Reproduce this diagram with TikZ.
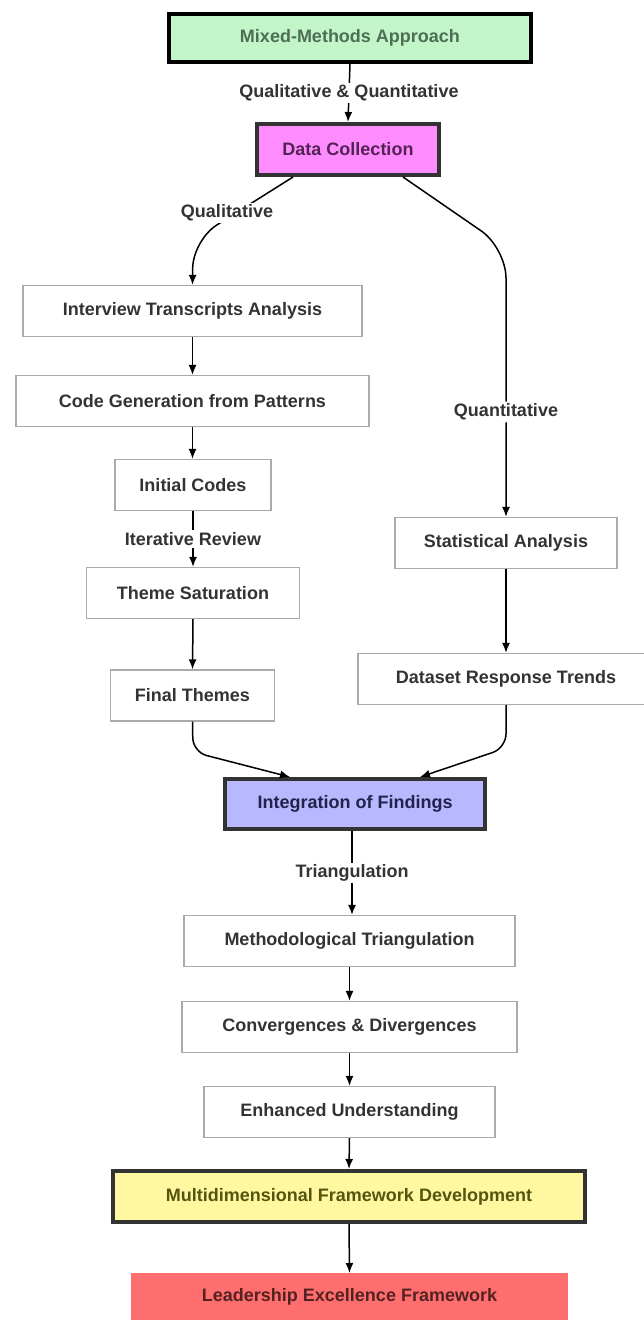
\documentclass[tikz,border=0pt]{standalone}
\usepackage{fontspec}
\setmainfont{Liberation Sans}
\usetikzlibrary{arrows.meta}
\definecolor{txt}{HTML}{333333}
\definecolor{bord}{HTML}{AAAAAA}
\definecolor{greenfill}{HTML}{C2F5C8}
\definecolor{greentxt}{HTML}{4E6E55}
\definecolor{pinkfill}{HTML}{FF8CFF}
\definecolor{pinktxt}{HTML}{552255}
\definecolor{bluefill}{HTML}{B8B8FF}
\definecolor{bluetxt}{HTML}{22224A}
\definecolor{yellowfill}{HTML}{FFF8A0}
\definecolor{yellowtxt}{HTML}{555510}
\definecolor{redfill}{HTML}{FF6E6E}
\definecolor{redtxt}{HTML}{552222}
\definecolor{darkbord}{HTML}{333333}
\begin{document}
\begin{tikzpicture}[x=1pt,y=-1pt,
  font=\fontsize{18}{21}\selectfont\bfseries,
  plain/.style={draw=bord, line width=1.2pt, fill=white, text=txt, minimum height=51pt, inner sep=0pt},
  major/.style={draw=darkbord, line width=4pt, inner sep=0pt},
  arr/.style={draw=black, line width=1.5pt, -{Latex[length=10pt,width=8pt]}},
  lbl/.style={fill=white, text=txt, inner sep=2pt}
]
\useasboundingbox (0,0) rectangle (643,1320);
% major nodes
\node[major, draw=black, fill=greenfill, text=greentxt, minimum width=362pt, minimum height=48pt] (mm) at (350,38) {Mixed-Methods Approach};
\node[major, fill=pinkfill, text=pinktxt, minimum width=182pt, minimum height=51pt] (dc) at (348,149.5) {Data Collection};
% qualitative branch
\node[plain, minimum width=339pt] (iv) at (192.5,311) {Interview Transcripts Analysis};
\node[plain, minimum width=353pt] (cg) at (192.5,401) {Code Generation from Patterns};
\node[plain, minimum width=156pt] (ic) at (193,485) {Initial Codes};
\node[plain, minimum width=213pt] (ts) at (193,593) {Theme Saturation};
\node[plain, minimum width=164pt] (ft) at (192.5,695.5) {Final Themes};
% quantitative branch
\node[plain, minimum width=222pt] (sa) at (506,543) {Statistical Analysis};
\node[plain, minimum width=296pt] (dr) at (506,679) {Dataset Response Trends};
% integration
\node[major, fill=bluefill, text=bluetxt, minimum width=260pt, minimum height=50pt] (ig) at (355,804) {Integration of Findings};
\node[plain, minimum width=331pt] (mt) at (349.5,941) {Methodological Triangulation};
\node[plain, minimum width=335pt] (cd) at (349.5,1027) {Convergences \& Divergences};
\node[plain, minimum width=291pt] (eu) at (349.5,1112) {Enhanced Understanding};
\node[major, fill=yellowfill, text=yellowtxt, minimum width=472pt, minimum height=51pt] (md) at (349,1196.5) {Multidimensional Framework Development};
\node[fill=redfill, text=redtxt, minimum width=437pt, minimum height=52pt, inner sep=0pt, anchor=north] (le) at (349.5,1273) {};
\node[text=redtxt, anchor=center] (letxt) at (349.5,1297) {Leadership Excellence Framework};
% connectors
\draw[arr] (mm.south) -- node[lbl]{Qualitative \& Quantitative} (dc.north);
\draw[arr, rounded corners=28pt] ([xshift=-55pt]dc.south) -- (193,240) -- (iv.north);
\node[lbl] (qlbl) at (227,213) {Qualitative};
\draw[arr, rounded corners=30pt] ([xshift=55pt]dc.south) -- (506,248) -- node[lbl, pos=0.61]{Quantitative} (sa.north);
\draw[arr] (iv.south) -- (iv.south |- cg.north);
\draw[arr] (cg.south) -- (cg.south |- ic.north);
\draw[arr] (ic.south) -- node[lbl]{Iterative Review} (ts.north);
\draw[arr] (ts.south) -- (ft.north);
\draw[arr] (sa.south) -- (dr.north);
\draw[arr, rounded corners=14pt] (ft.south) -- (193,752) -- ([xshift=-65pt]ig.north);
\draw[arr, rounded corners=14pt] (dr.south) -- (506,748) -- ([xshift=65pt]ig.north);
\draw[arr] (ig.south -| 352,0) -- node[lbl]{Triangulation} (mt.north -| 352,0);
\draw[arr] (mt.south) -- (cd.north);
\draw[arr] (cd.south) -- (eu.north);
\draw[arr] (eu.south) -- (md.north);
\draw[arr] (md.south) -- (le.north);
\end{tikzpicture}
\end{document}
